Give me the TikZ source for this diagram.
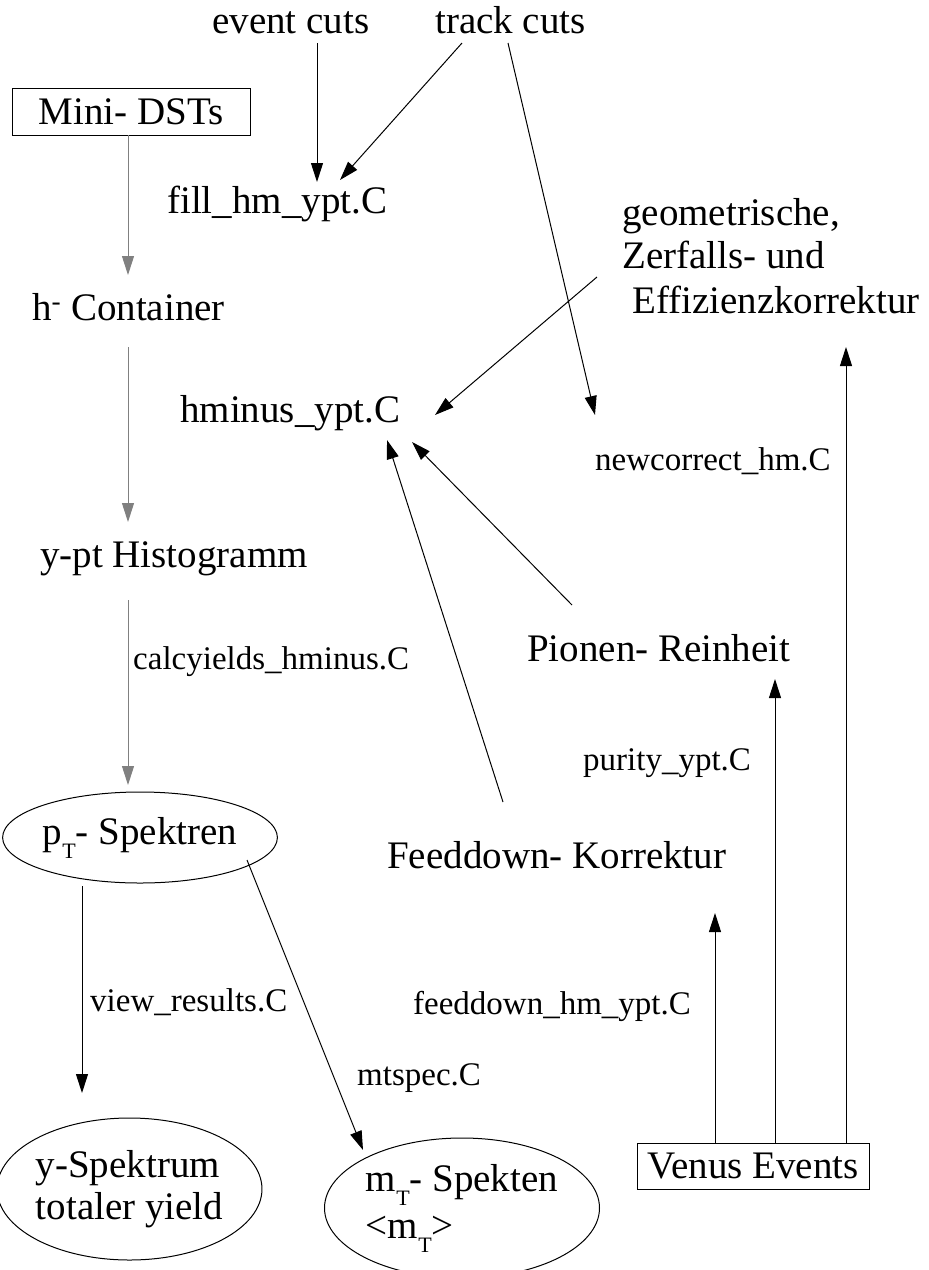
\documentclass[tikz,border=0pt]{standalone}
\usepackage{fontspec}
\setmainfont{Liberation Serif}
\usetikzlibrary{arrows.meta,shapes.geometric}

\newcommand{\bigtxt}{\fontsize{39}{42}\selectfont}
\newcommand{\smalltxt}{\fontsize{33}{38}\selectfont}
\newcommand{\lowT}{\raisebox{-14pt}{\fontsize{22}{22}\selectfont T}}

\begin{document}
\begin{tikzpicture}[x=1pt,y=-1pt,
    big style/.style={inner sep=0pt, anchor=base west, font=\bigtxt},
    small style/.style={inner sep=0pt, anchor=base west, font=\smalltxt},
    box style/.style={draw=black, line width=1pt, inner sep=0pt, font=\bigtxt},
    oval style/.style={draw=black, line width=1pt, ellipse, inner sep=0pt, font=\bigtxt, align=left},
    arrow style/.style={line width=1pt, -{Triangle[length=19pt,width=12pt]}},
    grey arrow/.style={arrow style, draw=gray}]
    \useasboundingbox (0,0) rectangle (929,1270);

    % inputs
    \node[big style] (evcuts) at (212,33) {event cuts};
    \node[big style] (trcuts) at (435,33) {track cuts};
    \node[box style, minimum width=238pt, minimum height=47pt] (mini) at (131,111.5) {Mini- DSTs};
    \node[big style] (geom) at (622,225) {geometrische,};
    \node[big style] (zerf) at (622,268) {Zerfalls- und};
    \node[big style] (effi) at (632,313) {Effizienzkorrektur};
    \node[box style, minimum width=232pt, minimum height=46pt] (venus) at (753,1166) {Venus Events};

    % macros and products
    \node[big style] (fill) at (167,213) {fill\_hm\_ypt.C};
    \node[big style] (hcont) at (32,320) {h\textsuperscript{-} Container};
    \node[big style] (hminus) at (180,422) {hminus\_ypt.C};
    \node[small style] (newcorr) at (595,470) {newcorrect\_hm.C};
    \node[big style] (yhist) at (40,567) {y-pt Histogramm};
    \node[small style] (calc) at (133,669) {calcyields\_hminus.C};
    \node[big style] (pion) at (527,661) {Pionen- Reinheit};
    \node[small style] (purity) at (583,770) {purity\_ypt.C};
    \node[big style] (feed) at (387,868) {Feeddown- Korrektur};
    \node[small style] (feedmac) at (413,1014) {feeddown\_hm\_ypt.C};
    \node[small style] (view) at (90,1011) {view\_results.C};
    \node[small style] (mtmac) at (357,1085) {mtspec.C};

    % spectra
    \node[oval style, minimum width=256pt, minimum height=91pt] (ptspec) at (140,837.5) {p\lowT- Spektren};
    \node[oval style, minimum width=235pt, minimum height=142pt] (yspec) at (129.5,1189) {y-Spektrum\\totaler yield};
    \node[oval style, minimum width=275pt, minimum height=140pt] (mtspec) at (462,1208) {m\lowT- Spekten\\[5pt]<m\lowT>};

    % arrow ends
    \coordinate (ev-out) at (317,43);
    \coordinate (fill-in1) at (317,182);
    \coordinate (tr-out1) at (462,43);
    \coordinate (fill-in2) at (340,180);
    \coordinate (tr-out2) at (508,43);
    \coordinate (newc-in) at (595,415);
    \coordinate (geom-out) at (597,277);
    \coordinate (hm-in1) at (435,415);
    \coordinate (pion-out) at (572,605);
    \coordinate (hm-in2) at (412,442);
    \coordinate (feed-out) at (503,802);
    \coordinate (hm-in3) at (387,440);

    \draw[arrow style] (ev-out) -- (fill-in1);
    \draw[arrow style] (tr-out1) -- (fill-in2);
    \draw[arrow style] (tr-out2) -- (newc-in);
    \draw[arrow style] (geom-out) -- (hm-in1);
    \draw[arrow style] (pion-out) -- (hm-in2);
    \draw[arrow style] (feed-out) -- (hm-in3);

    \draw[grey arrow] (128,135) -- (128,275);
    \draw[grey arrow] (128,347) -- (128,522);
    \draw[grey arrow] (128,600) -- (128,785);
    \draw[arrow style] (82,886) -- (82,1093);
    \draw[arrow style] (247,860) -- (363,1150);

    \draw[arrow style] (715,1143) -- (715,913);
    \draw[arrow style] (775,1143) -- (775,679);
    \draw[arrow style] (846,1143) -- (846,347);

\end{tikzpicture}
\end{document}
